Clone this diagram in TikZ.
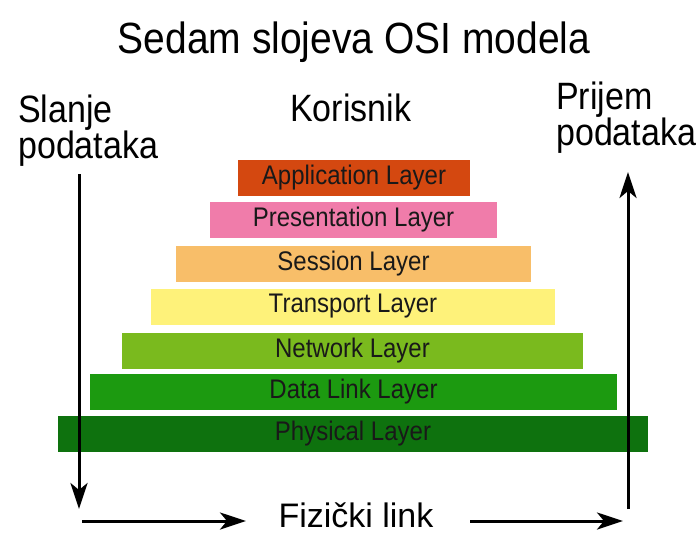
\documentclass[tikz,border=0pt]{standalone}
\usepackage{fontspec}
\setmainfont{Liberation Sans}
\usepackage{graphicx}
\usepackage{xcolor}
\definecolor{ColApp}{RGB}{212,72,16}
\definecolor{ColPre}{RGB}{240,124,170}
\definecolor{ColSes}{RGB}{248,190,105}
\definecolor{ColTra}{RGB}{254,242,122}
\definecolor{ColNet}{RGB}{122,186,30}
\definecolor{ColDat}{RGB}{28,154,16}
\definecolor{ColPhy}{RGB}{14,114,14}
\usepackage{tikz}
\usetikzlibrary{arrows.meta}
\newcommand{\Tall}[1]{\scalebox{1}[1.12]{#1}}
\tikzstyle{Layer}=[inner sep=0pt,minimum height=36pt,text=black!90,
font=\fontsize{24}{24}\selectfont]
\tikzstyle{Side}=[inner sep=0pt,anchor=base west,font=\fontsize{34}{36}\selectfont]
\tikzstyle{Arrow}=[draw=black,line width=3pt,
-{Stealth[length=26pt,width=17pt,inset=7pt]}]

\begin{document}
\begin{tikzpicture}[x=1pt,y=-1pt]
        \useasboundingbox (0,0) rectangle (698,533);
        \node[inner sep=0pt,anchor=base,font=\fontsize{39}{40}\selectfont](T)at(354,53)
            {\Tall{Sedam slojeva OSI modela}};
        \node[Side](sl)at(18,122){\Tall{Slanje}};
        \node[Side](sp)at(18,158){\Tall{podataka}};
        \node[Side](ko)at(290,121){\Tall{Korisnik}};
        \node[Side](pr)at(556,109){\Tall{Prijem}};
        \node[Side](pp)at(556,145){\Tall{podataka}};
        % slojevi
        \node[Layer,fill=ColApp,minimum width=232pt](7)at(354,178){\Tall{Application Layer}};
        \node[Layer,fill=ColPre,minimum width=287pt](6)at(353.5,219.5){\Tall{Presentation Layer}};
        \node[Layer,fill=ColSes,minimum width=355pt](5)at(353.5,263.5){\Tall{Session Layer}};
        \node[Layer,fill=ColTra,minimum width=404pt](4)at(353,306.5){\Tall{Transport Layer}};
        \node[Layer,fill=ColNet,minimum width=461pt](3)at(352.5,350.5){\Tall{Network Layer}};
        \node[Layer,fill=ColDat,minimum width=527pt](2)at(353.5,392){\Tall{Data Link Layer}};
        \node[Layer,fill=ColPhy,minimum width=590pt](1)at(353,434){\Tall{Physical Layer}};
        % strelice
        \coordinate(a0)at(79,174);
        \coordinate(a1)at(79,509);
        \coordinate(b0)at(628,509);
        \coordinate(b1)at(628,172);
        \coordinate(c0)at(82,521);
        \coordinate(c1)at(246,521);
        \coordinate(d0)at(470,521);
        \coordinate(d1)at(623,521);
        \node[Side,anchor=base](fl)at(356,527){Fizički link};
        \draw[Arrow](a0)--(a1);
        \draw[Arrow](b0)--(b1);
        \draw[Arrow](c0)--(c1);
        \draw[Arrow](d0)--(d1);
    \end{tikzpicture}
\end{document}
